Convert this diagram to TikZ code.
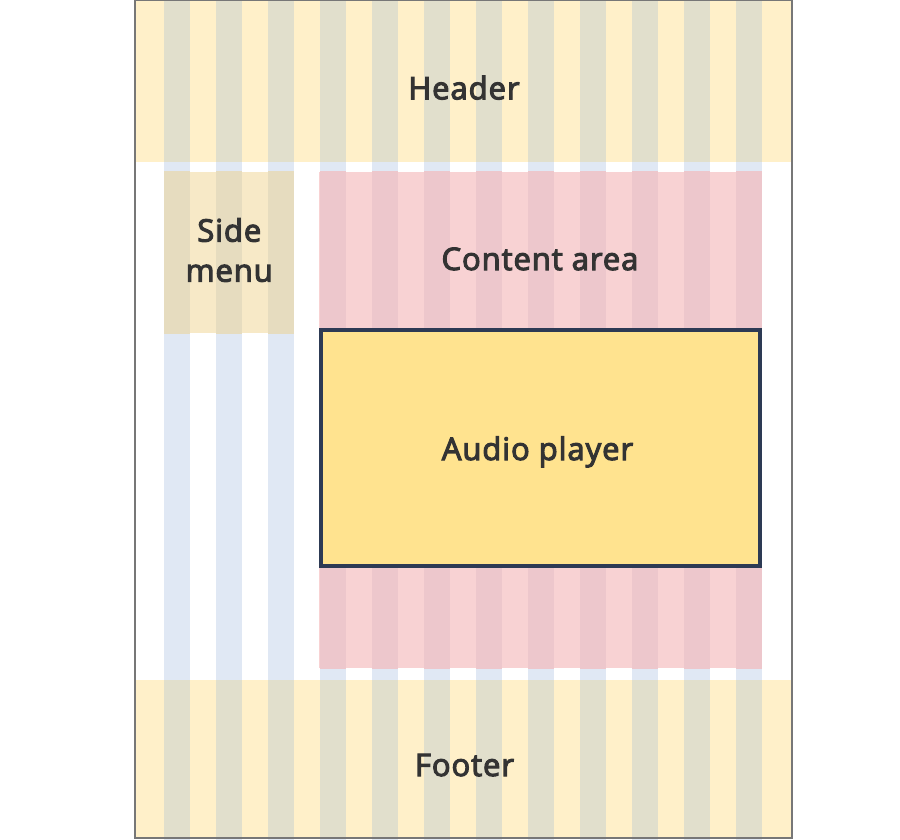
\documentclass[tikz,border=0pt]{standalone}
\usepackage{fontspec}
\setmainfont{Open Sans}
\newfontfamily\lblfont{Open Sans}[FakeBold=3.5, LetterSpace=3]
\definecolor{stripeblue}{HTML}{E0E8F4}
\definecolor{hdrbase}{HTML}{FFF0C9}
\definecolor{hdrover}{HTML}{E1DFCC}
\definecolor{sidebase}{HTML}{F7E9C7}
\definecolor{sideover}{HTML}{E6DCBF}
\definecolor{pinkbase}{HTML}{F8D2D3}
\definecolor{pinkover}{HTML}{EDC7CC}
\definecolor{playerfill}{HTML}{FFE38F}
\definecolor{playerborder}{HTML}{2D3A54}
\definecolor{txt}{HTML}{333333}
\definecolor{frame}{HTML}{777777}
\tikzset{
  lbl/.style={font=\lblfont\fontsize{31}{40}\selectfont, text=txt, inner sep=0pt, align=center},
}
\newcommand{\stripes}[1]{%
  \foreach \k in {0,...,11}{\fill[#1] ({164+52*\k},0) rectangle ({190+52*\k},840);}}
\begin{document}
\begin{tikzpicture}[x=1pt,y=-1pt]
\useasboundingbox (0,0) rectangle (900,840);
% background grid stripes
\stripes{stripeblue}
% header
\fill[hdrbase] (135,0) rectangle (792,162);
\begin{scope}\clip (135,0) rectangle (792,162); \stripes{hdrover} \end{scope}
% footer
\fill[hdrbase] (135,680) rectangle (792,838);
\begin{scope}\clip (135,680) rectangle (792,838); \stripes{hdrover} \end{scope}
% side menu
\fill[sidebase] (164,172) rectangle (294,333);
\begin{scope}\clip (164,172) rectangle (294,333); \stripes{sideover} \end{scope}
% content area
\fill[pinkbase] (319,172) rectangle (762,668);
\begin{scope}\clip (319,172) rectangle (762,668); \stripes{pinkover} \end{scope}
% audio player
\draw[playerborder, fill=playerfill, line width=3.6pt] (320.8,329.8) rectangle (760.2,566.2);
% frame
\draw[frame, line width=2pt] (135,0) rectangle (792,838);
% labels
\node[lbl, anchor=base] (header) at (464,99.3) {Header};
\node[lbl] (side) at (229.3,250) {Side\\menu};
\node[lbl, anchor=base] (content) at (540,270) {Content area};
\node[lbl, anchor=base] (player) at (537.5,460) {Audio player};
\node[lbl, anchor=base] (footer) at (464.5,776) {Footer};
\end{tikzpicture}
\end{document}
